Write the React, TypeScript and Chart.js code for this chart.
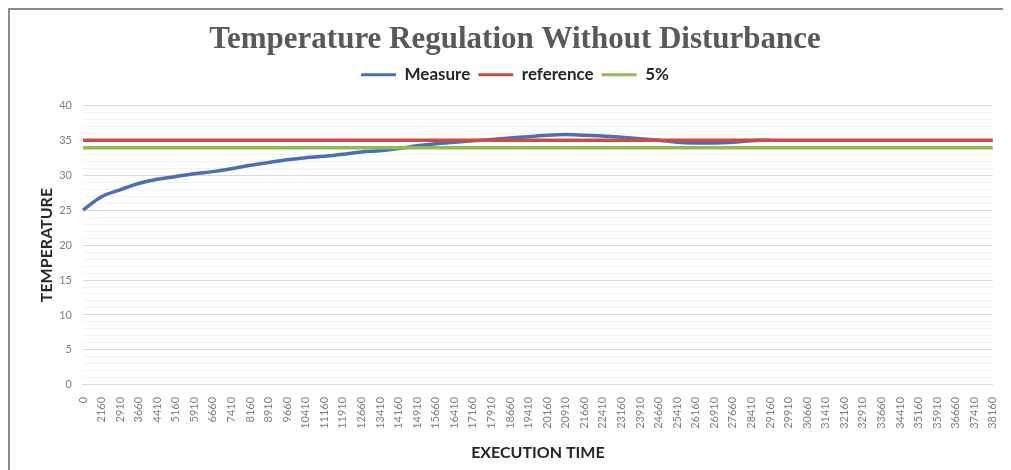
import { useEffect, useRef } from "react";
import { Chart, registerables } from "chart.js";

Chart.register(...registerables);

// Execution time stamps shown on the category axis
const timeLabels = [
  "0", "2160", "2910", "3660", "4410", "5160", "5910", "6660", "7410", "8160",
  "8910", "9660", "10410", "11160", "11910", "12660", "13410", "14160", "14910", "15660",
  "16410", "17160", "17910", "18660", "19410", "20160", "20910", "21660", "22410", "23160",
  "23910", "24660", "25410", "26160", "26910", "27660", "28410", "29160", "29910", "30660",
  "31410", "32160", "32910", "33660", "34410", "35160", "35910", "36660", "37410", "38160",
];

// Measured temperature (recording stops after 29160)
const measureValues: (number | null)[] = [
  25.0, 26.9, 27.9, 28.8, 29.4, 29.8, 30.2, 30.5, 30.9, 31.4,
  31.8, 32.2, 32.5, 32.7, 33.0, 33.3, 33.5, 33.8, 34.2, 34.5,
  34.7, 34.9, 35.1, 35.3, 35.5, 35.7, 35.8, 35.7, 35.6, 35.4,
  35.2, 35.0, 34.7, 34.6, 34.6, 34.7, 34.9, 35.0, null, null,
  null, null, null, null, null, null, null, null, null, null,
];

// Set point
const referenceValues = [
  35, 35, 35, 35, 35, 35, 35, 35, 35, 35,
  35, 35, 35, 35, 35, 35, 35, 35, 35, 35,
  35, 35, 35, 35, 35, 35, 35, 35, 35, 35,
  35, 35, 35, 35, 35, 35, 35, 35, 35, 35,
  35, 35, 35, 35, 35, 35, 35, 35, 35, 35,
];

// Lower tolerance band
const bandValues = [
  33.9, 33.9, 33.9, 33.9, 33.9, 33.9, 33.9, 33.9, 33.9, 33.9,
  33.9, 33.9, 33.9, 33.9, 33.9, 33.9, 33.9, 33.9, 33.9, 33.9,
  33.9, 33.9, 33.9, 33.9, 33.9, 33.9, 33.9, 33.9, 33.9, 33.9,
  33.9, 33.9, 33.9, 33.9, 33.9, 33.9, 33.9, 33.9, 33.9, 33.9,
  33.9, 33.9, 33.9, 33.9, 33.9, 33.9, 33.9, 33.9, 33.9, 33.9,
];

const BLUE = "#4a6fb5";
const RED = "#cc4b42";
const GREEN = "#93b954";
const SANS = "Lato, 'Open Sans', sans-serif";

// Leaves extra room between the legend row and the plot area
const legendGap = {
  id: "legendGap",
  beforeInit(chart: any) {
    const legend = chart.legend;
    if (!legend) return;
    const fit = legend.fit;
    legend.fit = function () {
      fit.call(this);
      this.height += 12;
    };
  },
};

export default function App() {
  const canvasRef = useRef<HTMLCanvasElement | null>(null);

  useEffect(() => {
    const canvas = canvasRef.current;
    if (!canvas) return;
    const chart = new Chart(canvas, {
      type: "line",
      data: {
        labels: timeLabels,
        datasets: [
          {
            label: "Measure",
            data: measureValues,
            borderColor: BLUE,
            backgroundColor: BLUE,
            borderWidth: 3.5,
            pointRadius: 0,
            tension: 0.35,
            order: 2,
          },
          {
            label: "reference",
            data: referenceValues,
            borderColor: RED,
            backgroundColor: RED,
            borderWidth: 3.5,
            pointRadius: 0,
            order: 0,
          },
          {
            label: "5%",
            data: bandValues,
            borderColor: GREEN,
            backgroundColor: GREEN,
            borderWidth: 3.5,
            pointRadius: 0,
            order: 1,
          },
        ],
      },
      plugins: [legendGap],
      options: {
        responsive: false,
        animation: false,
        layout: { padding: { left: 13, right: 3, top: 8, bottom: 8 } },
        plugins: {
          tooltip: { enabled: false },
          title: {
            display: true,
            text: "Temperature Regulation Without Disturbance",
            color: "#595959",
            font: { family: "'Liberation Serif', serif", size: 31, weight: "bold" },
            padding: { top: 3, bottom: 0 },
          },
          legend: {
            display: true,
            position: "top",
            labels: {
              color: "#262626",
              font: { family: SANS, size: 17, weight: "bold" },
              boxWidth: 35,
              boxHeight: 3,
              padding: 8,
              sort: (a, b) => (a.datasetIndex ?? 0) - (b.datasetIndex ?? 0),
              generateLabels: (c) =>
                Chart.defaults.plugins.legend.labels
                  .generateLabels(c)
                  .map((item) => ({ ...item, lineWidth: 0 })),
            },
          },
        },
        scales: {
          x: {
            type: "category",
            offset: false,
            grid: { display: false },
            border: { display: true, color: "#d9d9d9" },
            ticks: {
              autoSkip: false,
              minRotation: 90,
              maxRotation: 90,
              color: "#7f7f7f",
              font: { family: SANS, size: 11 },
              padding: 4,
            },
            title: {
              display: true,
              text: "EXECUTION TIME",
              color: "#262626",
              font: { family: SANS, size: 16, weight: "bold" },
              padding: { top: 10, bottom: 0 },
            },
          },
          y: {
            min: 0,
            max: 40,
            border: { display: false },
            grid: {
              color: (ctx) => (ctx.tick && ctx.tick.value % 5 === 0 ? "#d9d9d9" : "#f1f1f1"),
              drawTicks: false,
            },
            ticks: {
              stepSize: 1,
              maxTicksLimit: 100,
              autoSkip: false,
              color: "#7f7f7f",
              font: { family: SANS, size: 11 },
              padding: 11,
              callback: (v) => (Number(v) % 5 === 0 ? String(v) : ""),
            },
            title: {
              display: true,
              text: "TEMPERATURE",
              color: "#262626",
              font: { family: SANS, size: 16, weight: "bold" },
              padding: { top: 14, bottom: -8 },
            },
          },
        },
      },
    });
    return () => chart.destroy();
  }, []);

  return (
    <div
      style={{
        width: 1000,
        height: 470,
        borderLeft: "2px solid #8c8c8c",
        borderTop: "2px solid #8c8c8c",
        background: "#ffffff",
      }}
    >
      <canvas ref={canvasRef} width={1000} height={460} style={{ display: "block" }} />
    </div>
  );
}
